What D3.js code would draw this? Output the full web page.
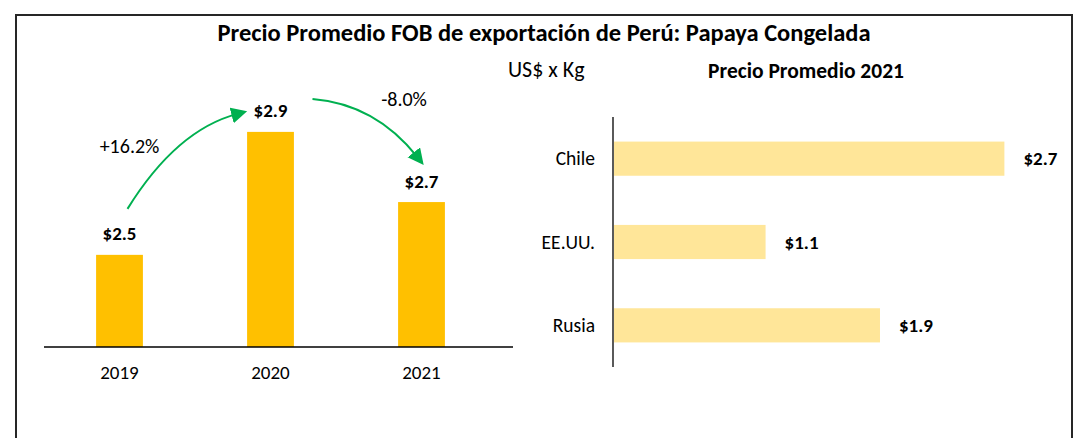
<!DOCTYPE html>
<html>
<head>
<meta charset="utf-8">
<script src="https://cdn.jsdelivr.net/npm/d3@7"></script>
<style>
	body { margin: 0; background: #fff; }
	svg text { font-family: Carlito, Lato, "Open Sans", sans-serif; fill: #000; }
	.bold { font-weight: bold; }
</style>
</head>
<body>
<svg id="chart" width="1086" height="438"></svg>
<script>
// Left chart: yearly average price
var years = ["2019", "2020", "2021"];
var yearPrices = [2.482, 2.885, 2.655];
var changeLabels = ["+16.2%", "-8.0%"];

// Right chart: price by market 2021
var markets = ["Chile", "EE.UU.", "Rusia"];
var marketPrices = [2.73, 1.06, 1.86];

var green = "#00B050";
var svg = d3.select("#chart");

// outer frame
svg.append("rect")
	.attr("x", 16).attr("y", 15)
	.attr("width", 1056).attr("height", 440)
	.attr("fill", "none")
	.attr("stroke", "#262626")
	.attr("stroke-width", 2);

svg.append("text")
	.classed("bold", true)
	.attr("x", 544).attr("y", 41)
	.attr("text-anchor", "middle")
	.style("font-size", "24.5px")
	.text("Precio Promedio FOB de exportación de Perú: Papaya Congelada");

svg.append("text")
	.attr("x", 508).attr("y", 77)
	.style("font-size", "22px")
	.text("US$ x Kg");

// ---- left bars
var x = d3.scaleBand().domain(years).range([44, 497]).paddingInner(0.69).paddingOuter(0.345);
var y = d3.scaleLinear().domain([2.18, 3.0]).range([347, 96.8]);

svg.append("g").selectAll("rect")
	.data(years)
	.enter()
	.append("rect")
	.attr("x", function(d) { return x(d); })
	.attr("y", function(d, i) { return y(yearPrices[i]); })
	.attr("width", x.bandwidth())
	.attr("height", function(d, i) { return y(2.18) - y(yearPrices[i]); })
	.attr("fill", "#FFC000");

svg.append("line")
	.attr("x1", 44).attr("x2", 513)
	.attr("y1", y(2.18)).attr("y2", y(2.18))
	.attr("stroke", "#000").attr("stroke-width", 1.3);

svg.append("g").selectAll("text")
	.data(years)
	.enter()
	.append("text")
	.attr("x", function(d) { return x(d) + x.bandwidth() / 2; })
	.attr("y", 379)
	.attr("text-anchor", "middle")
	.style("font-size", "19px")
	.text(function(d) { return d; });

svg.append("g").selectAll("text")
	.data(yearPrices)
	.enter()
	.append("text")
	.classed("bold", true)
	.attr("x", function(d, i) { return x(years[i]) + x.bandwidth() / 2; })
	.attr("y", function(d) { return y(d) - 14.5; })
	.attr("text-anchor", "middle")
	.style("font-size", "19px")
	.text(function(d) { return "$" + d.toFixed(1); });

// change arrows between consecutive years
svg.append("defs").append("marker")
	.attr("id", "arrow")
	.attr("markerWidth", 10)
	.attr("markerHeight", 10)
	.attr("refX", 3)
	.attr("refY", 4)
	.attr("orient", "auto")
	.attr("markerUnits", "strokeWidth")
	.append("path")
	.attr("d", "M0,0 L0,8 L8,4 z")
	.attr("fill", green);

var arrows = [
	{ from: 0, to: 1, s: [8, -46], c: [57, -125], e: [-33, -18], lx: 10, ly: -102 },
	{ from: 1, to: 2, s: [42, -33], c: [105, -28], e: [-4, -45], lx: 133.5, ly: -26 }
];

arrows.forEach(function(a, i) {
	var cx0 = x(years[a.from]) + x.bandwidth() / 2, y0 = y(yearPrices[a.from]);
	var cx1 = x(years[a.to]) + x.bandwidth() / 2, y1 = y(yearPrices[a.to]);
	var p = d3.path();
	p.moveTo(cx0 + a.s[0], y0 + a.s[1]);
	p.quadraticCurveTo(cx0 + a.c[0], y0 + a.c[1], cx1 + a.e[0], y1 + a.e[1]);
	svg.append("path")
		.attr("d", p.toString())
		.attr("fill", "none")
		.attr("stroke", green)
		.attr("stroke-width", 2)
		.attr("marker-end", "url(#arrow)");
	svg.append("text")
		.attr("x", cx0 + a.lx).attr("y", y0 + a.ly)
		.attr("text-anchor", "middle")
		.style("font-size", "20px")
		.text(changeLabels[i]);
});

// ---- right bars
svg.append("text")
	.classed("bold", true)
	.attr("x", 806).attr("y", 78)
	.attr("text-anchor", "middle")
	.style("font-size", "21.5px")
	.text("Precio Promedio 2021");

var yb = d3.scaleBand().domain(markets).range([117, 367]).paddingInner(0.59).paddingOuter(0.295);
var xb = d3.scaleLinear().domain([0, 3]).range([614, 1043]);

svg.append("g").selectAll("rect")
	.data(markets)
	.enter()
	.append("rect")
	.attr("x", xb(0))
	.attr("y", function(d) { return yb(d); })
	.attr("width", function(d, i) { return xb(marketPrices[i]) - xb(0); })
	.attr("height", yb.bandwidth())
	.attr("fill", "#FFE699");

svg.append("line")
	.attr("x1", 613).attr("x2", 613)
	.attr("y1", 117).attr("y2", 367)
	.attr("stroke", "#000").attr("stroke-width", 1.3);

svg.append("g").selectAll("text")
	.data(markets)
	.enter()
	.append("text")
	.attr("x", 595)
	.attr("y", function(d) { return yb(d) + yb.bandwidth() / 2; })
	.attr("dy", "0.35em")
	.attr("text-anchor", "end")
	.style("font-size", "19.5px")
	.text(function(d) { return d; });

svg.append("g").selectAll("text")
	.data(marketPrices)
	.enter()
	.append("text")
	.classed("bold", true)
	.attr("x", function(d) { return xb(d) + 19; })
	.attr("y", function(d, i) { return yb(markets[i]) + yb.bandwidth() / 2; })
	.attr("dy", "0.35em")
	.style("font-size", "19px")
	.text(function(d) { return "$" + d.toFixed(1); });
</script>
</body>
</html>
